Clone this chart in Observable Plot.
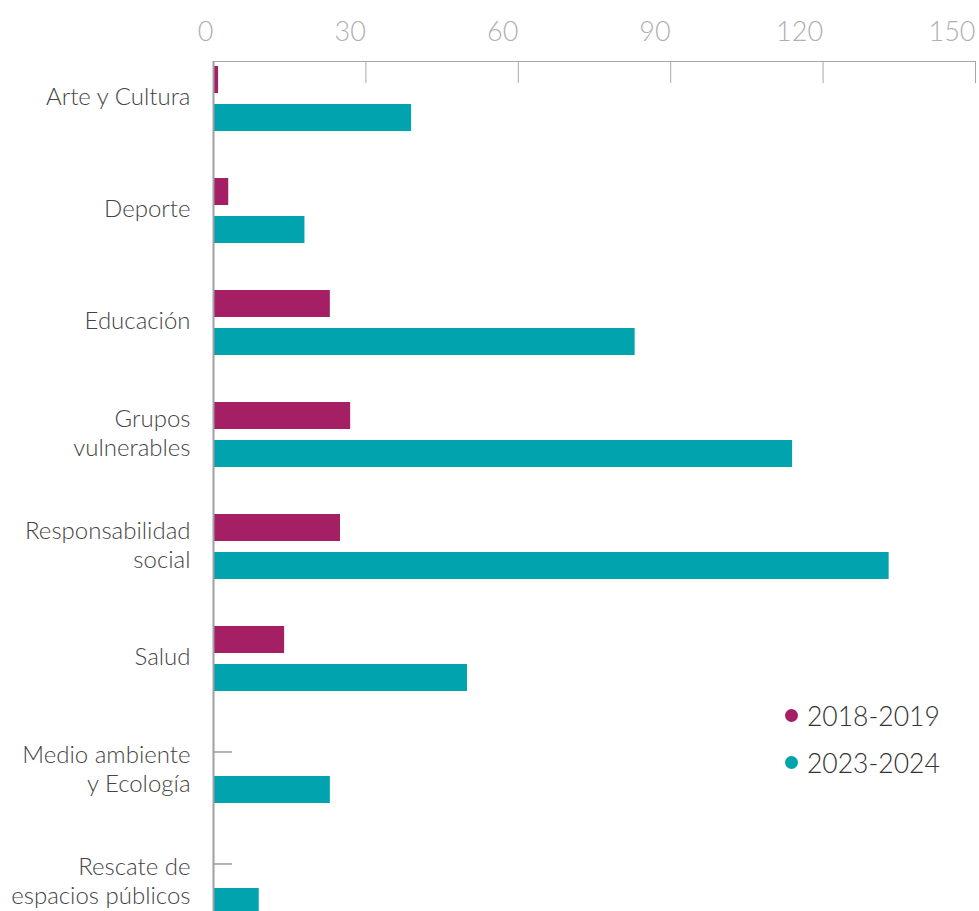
<!DOCTYPE html>
<html><head><meta charset="utf-8">
<script src="https://cdn.jsdelivr.net/npm/d3@7"></script>
<script src="https://cdn.jsdelivr.net/npm/@observablehq/plot@0.6"></script>
<style>
html,body{margin:0;padding:0;background:#fff;overflow:hidden}
#wrap{position:relative;width:979px;height:911px;font-family:Lato,"Noto Sans",sans-serif;font-weight:300}
#legend{position:absolute;left:785px;top:692px}
#legend .item{display:flex;align-items:center;height:47px;font-size:26.5px;color:#333;font-weight:300}
#legend .dot{display:inline-block;width:13px;height:13px;border-radius:50%;margin-right:9px}
</style></head><body><div id="wrap"></div>
<script>
const categories = ["Arte y Cultura","Deporte","Educación","Grupos vulnerables","Responsabilidad social","Salud","Medio ambiente y Ecología","Rescate de espacios públicos"];
const categoryLabels = ["Arte y Cultura","Deporte","Educación","Grupos\nvulnerables","Responsabilidad\nsocial","Salud","Medio ambiente\ny Ecología","Rescate de\nespacios públicos"];
const series = ["2018-2019","2023-2024"];
const values2018 = [1,3,23,27,25,14,0,0];
const values2023 = [39,18,83,114,133,50,23,9];
const xTicks = [0,30,60,90,120,150];
const colors = ["#a51f65","#00a3ae"];

const rows = categories.flatMap((c,i)=>[
  {cat:c, series:series[0], value:values2018[i]},
  {cat:c, series:series[1], value:values2023[i]}
]);
const offsets = {[series[0]]:-19, [series[1]]:19};

const marks = [];
series.forEach((s)=>{
  marks.push(Plot.barX(rows.filter(d=>d.series===s && d.value>0), {
    x1: 0, x2: "value", y: "cat", fill: "series",
    insetTop: 14.5, insetBottom: 14.5, dy: offsets[s]
  }));
  marks.push(Plot.ruleY(rows.filter(d=>d.series===s && d.value===0), {
    y: "cat", x1: 0, x2: 0, insetRight: -19, dy: offsets[s], stroke: "#9a9a9a", strokeWidth: 1.5
  }));
});

const chart = Plot.plot({
  width: 979,
  height: 911,
  marginLeft: 213,
  marginRight: 4,
  marginTop: 61,
  marginBottom: -9,
  style: {fontFamily: "Lato, 'Noto Sans', sans-serif", fontWeight: 300, background: "#fff"},
  x: {domain: [0,150], axis: null},
  y: {domain: categories, paddingInner: 0.5, paddingOuter: 0.085, round: false, axis: null},
  color: {domain: series, range: colors},
  marks: [
    Plot.axisX({anchor:"top", ticks: xTicks, tickSize: 21, dy: 21, text: null, stroke: "#a8a8a8", label: null}),
    Plot.axisX({anchor:"top", ticks: xTicks, tickSize: 0, tickPadding: 21, textAnchor: "end", fontSize: 27, fill: "#b0b0b0", label: null}),
    Plot.axisY({anchor:"left", tickSize: 0, tickPadding: 23, dy: -3, tickFormat: d => categoryLabels[categories.indexOf(d)], fontSize: 24, fill: "#444", lineHeight: 1.2, label: null}),
    ...marks,
    Plot.frame({anchor: "top", stroke: "#a8a8a8"}),
    Plot.ruleX([0], {stroke: "#a0a0a0", strokeWidth: 2})
  ]
});
const wrap = document.getElementById("wrap");
wrap.appendChild(chart);

const legend = d3.select(wrap).append("div").attr("id","legend");
const items = legend.selectAll(".item").data(series).join("div").attr("class","item");
items.append("span").attr("class","dot").style("background",(d,i)=>colors[i]);
items.append("span").text(d=>d);
</script>
</body></html>
